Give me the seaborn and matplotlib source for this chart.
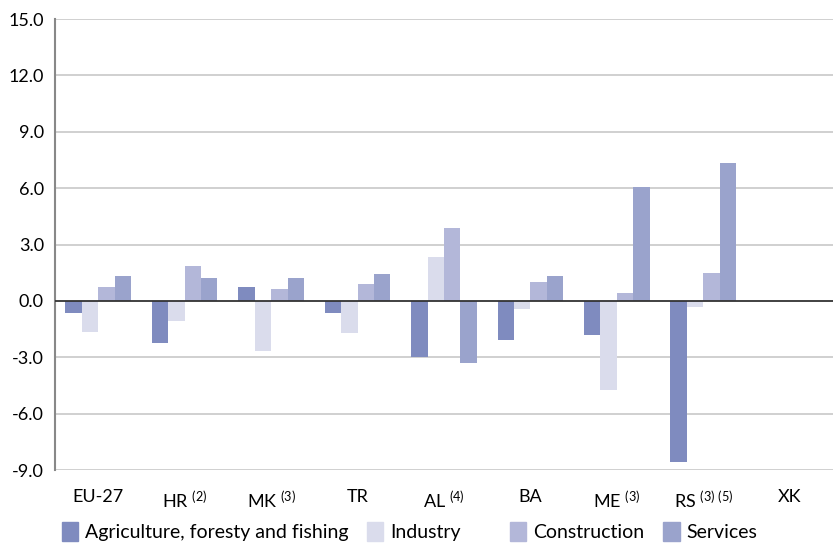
import numpy as np
import pandas as pd
import seaborn as sns
import matplotlib.pyplot as plt
from matplotlib.patches import Patch

sns.set_style('white')
plt.rcParams['font.family'] = ['Lato', 'DejaVu Sans']
plt.rcParams['mathtext.default'] = 'regular'
plt.rcParams['text.color'] = 'black'

countries = ['EU-27', 'HR $^{(2)}$', 'MK $^{(3)}$', 'TR', 'AL $^{(4)}$', 'BA',
             'ME $^{(3)}$', 'RS $^{(3)\\ (5)}$', 'XK']
sectors = ['Agriculture, foresty and fishing', 'Industry', 'Construction', 'Services']
agriculture = [-0.62, -2.22, 0.74, -0.67, -3.01, -2.06, -1.84, -8.55, np.nan]
industry = [-1.63, -1.05, -2.64, -1.69, 2.34, -0.41, -4.72, -0.30, np.nan]
construction = [0.74, 1.86, 0.64, 0.90, 3.88, 1.01, 0.43, 1.49, np.nan]
services = [1.33, 1.22, 1.22, 1.44, -3.33, 1.33, 6.06, 7.34, np.nan]
colors = ['#7f8bbf', '#dadcec', '#b3b7d9', '#9aa3cc']

df = pd.DataFrame({'country': countries * 4,
                   'sector': np.repeat(sectors, len(countries)),
                   'value': agriculture + industry + construction + services})

fig = plt.figure(figsize=(8.33, 5.44), dpi=100)
ax = fig.add_axes([0.066, 0.136, 0.934, 0.829])

sns.barplot(data=df, x='country', y='value', hue='sector', order=countries,
            hue_order=sectors, palette=colors, width=0.76, saturation=1,
            errorbar=None, ax=ax, legend=False, linewidth=0)

ax.set_ylim(-9, 15)
ax.set_xlim(-0.5, 8.5)
ax.set_yticks(np.arange(-9, 15.1, 3))
ax.set_yticklabels(['%.1f' % v for v in np.arange(-9, 15.1, 3)])
for v in np.arange(-9, 15.1, 3):
    if v != 0:
        ax.axhline(v, color='#c8c8c8', lw=1.2, zorder=0)
ax.axhline(0, color='#333333', lw=1.3, zorder=3)

for s in ['top', 'right', 'bottom']:
    ax.spines[s].set_visible(False)
ax.spines['left'].set_color('#888888')
ax.spines['left'].set_linewidth(1.5)

ax.set_xlabel('')
ax.set_ylabel('')
ax.tick_params(axis='x', length=0, pad=14, labelsize=13, labelcolor='black')
ax.tick_params(axis='y', length=0, pad=8, labelsize=13, labelcolor='black')

# legend entries sit at uneven positions in the original, so place each one
legend_x = [0.074, 0.440, 0.612, 0.796]
for c, s, x in zip(colors, sectors, legend_x):
    fig.legend(handles=[Patch(color=c, label=s)], loc='center left',
               bbox_to_anchor=(x, 0.023), frameon=False, fontsize=14,
               handlelength=0.85, handleheight=1.1, handletextpad=0.35,
               borderaxespad=0, borderpad=0)

fig.savefig('out.png', dpi=100)
